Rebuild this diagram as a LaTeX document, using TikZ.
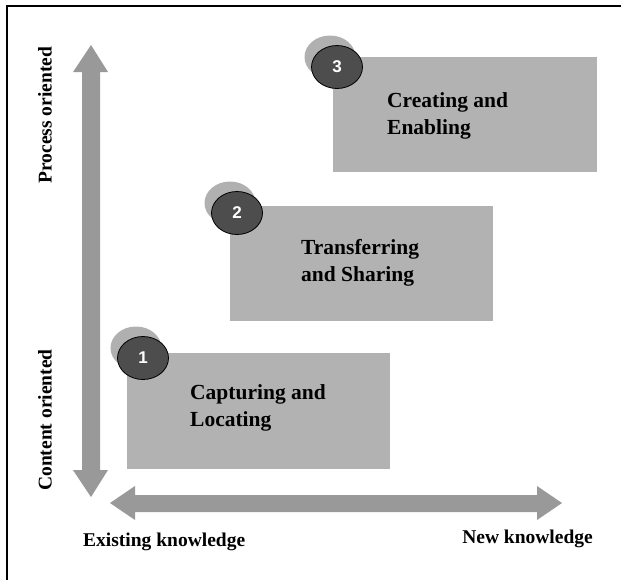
\documentclass[tikz,border=0pt]{standalone}
\usepackage{fontspec}
\usetikzlibrary{shapes.geometric}
\setmainfont{Liberation Serif}
\newfontfamily\numfont{Liberation Sans}
\begin{document}
\begin{tikzpicture}[x=1pt,y=-1pt,
  shadowdot/.style={ellipse,fill=shadgray,minimum width=51pt,minimum height=43pt,inner sep=0pt},
  numdot/.style={ellipse,fill=dotgray,draw=black,line width=0.8pt,minimum width=51pt,minimum height=43pt,inner sep=0pt,text=white,font=\numfont\bfseries\fontsize{17}{17}\selectfont},
  boxtext/.style={anchor=north west,align=left,font=\bfseries\fontsize{21.5}{27.5}\selectfont,inner sep=0pt},
  sidetext/.style={font=\bfseries\fontsize{19.5}{19.5}\selectfont,inner sep=0pt}]
\definecolor{boxgray}{RGB}{178,178,178}
\definecolor{arrgray}{RGB}{153,153,153}
\definecolor{shadgray}{RGB}{176,176,176}
\definecolor{dotgray}{RGB}{77,77,77}
\useasboundingbox (0,0) rectangle (621,579);
\fill[white] (0,0) rectangle (621,579);
% frame (only top and left visible)
\draw[line width=2pt] (7,621) -- (7,6) -- (630,6);
% vertical double arrow
\fill[arrgray] (91,45) -- (108,72) -- (100,72) -- (100,470) -- (108,470) -- (91,497)
  -- (73,470) -- (82,470) -- (82,72) -- (73,72) -- cycle;
% horizontal double arrow
\fill[arrgray] (110,503) -- (135,486) -- (135,495) -- (537,495) -- (537,486) -- (562,503)
  -- (537,520) -- (537,512) -- (135,512) -- (135,520) -- cycle;
% boxes
\fill[boxgray] (127,353) rectangle (390,469);
\fill[boxgray] (230,206) rectangle (493,321);
\fill[boxgray] (333,57) rectangle (597,172);
% dots
\node[shadowdot] (s1) at (136,348) {};
\node[numdot] (d1) at (143,358) {1};
\node[shadowdot] (s2) at (230,203) {};
\node[numdot] (d2) at (237,213) {2};
\node[shadowdot] (s3) at (330,57) {};
\node[numdot] (d3) at (337,67) {3};
% box texts
\node[boxtext] (t3) at (387,92) {Creating and\\Enabling};
\node[boxtext] (t2) at (301,239) {Transferring\\and Sharing};
\node[boxtext] (t1) at (190,384) {Capturing and\\Locating};
% side labels
\node[sidetext,rotate=90] (po) at (45,115) {Process oriented};
\node[sidetext,rotate=90] (co) at (45,420) {Content oriented};
\node[sidetext,anchor=west] (ek) at (83,542) {Existing knowledge};
\node[sidetext,anchor=east] (nk) at (593,539) {New knowledge};
\end{tikzpicture}
\end{document}
